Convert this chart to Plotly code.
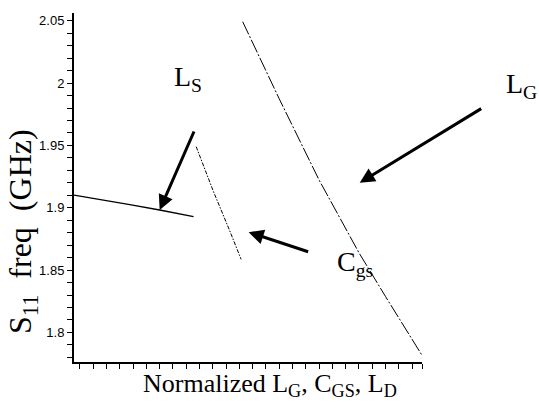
import plotly.graph_objects as go

# S11 resonance frequency versus normalized component value
ls_x = [0, 1.95, 4.2, 6.45, 9.0]
ls_y = [1.9101, 1.9067, 1.9026, 1.8982, 1.8929]

cgs_x = [9.2, 10.45, 11.7, 12.58]
cgs_y = [1.949, 1.9143, 1.8822, 1.8587]

lg_x = [12.7, 15.45, 18.45, 21.46, 23.46, 26.18]
lg_y = [2.0492, 1.9874, 1.9223, 1.8638, 1.8287, 1.782]

y_tick_vals = [1.8, 1.85, 1.9, 1.95, 2.0, 2.05]
y_tick_text = ["1.8", "1.85", "1.9", "1.95", "2", "2.05"]

X_RANGE = [0, 26.2]
Y_RANGE = [1.7763, 2.0562]
x_tick_vals = [0.45 + k for k in range(26)] + [X_RANGE[1]]

SERIF = "Liberation Serif, Times New Roman, serif"
SANS = "Liberation Sans, Arial, sans-serif"

fig = go.Figure()
fig.add_trace(go.Scatter(x=ls_x, y=ls_y, mode="lines",
                         line=dict(color="black", width=1.3)))
fig.add_trace(go.Scatter(x=cgs_x, y=cgs_y, mode="lines",
                         line=dict(color="black", width=1, dash="4px,1.5px,1.5px,1.5px")))
fig.add_trace(go.Scatter(x=lg_x, y=lg_y, mode="lines",
                         line=dict(color="black", width=1, dash="14px,2px,2px,2px")))

# pointer arrows
arrows = [
    # (head x, head y, tail offset px x, tail offset px y)
    (6.45, 1.8982, 35, -80),
    (13.15, 1.8804, 61, 20),
    (21.51, 1.9201, 123, -75),
]
for hx, hy, ax, ay in arrows:
    fig.add_annotation(x=hx, y=hy, xref="x", yref="y", ax=ax, ay=ay,
                       showarrow=True, arrowhead=2, arrowsize=1, arrowwidth=3,
                       arrowcolor="black", standoff=0, text="")

PL, PR, PT, PB = 74, 422, 13, 362
labels = [
    ("L<sub>S</sub>", 188, 79),
    ("L<sub>G</sub>", 521, 85),
    ("C<sub>gs</sub>", 355, 263),
]
for txt, px, py in labels:
    fig.add_annotation(x=(px - PL) / (PR - PL), y=(PB - py) / (PB - PT),
                       xref="paper", yref="paper", showarrow=False, text=txt,
                       font=dict(family=SERIF, size=28, color="black"),
                       xanchor="center", yanchor="middle")

# axis titles
fig.add_annotation(x=(22 - PL) / (PR - PL), y=(PB - 232) / (PB - PT),
                   xref="paper", yref="paper", showarrow=False,
                   text="S<sub>11</sub>&nbsp; freq&nbsp; (GHz)", textangle=-90,
                   font=dict(family=SERIF, size=32, color="black"),
                   xanchor="center", yanchor="middle")
fig.add_annotation(x=(270 - PL) / (PR - PL), y=(PB - 385) / (PB - PT),
                   xref="paper", yref="paper", showarrow=False,
                   text="Normalized L<sub>G</sub>, C<sub>GS</sub>, L<sub>D</sub>",
                   font=dict(family=SERIF, size=26, color="black"),
                   xanchor="center", yanchor="middle")

fig.update_xaxes(range=X_RANGE, showgrid=False, zeroline=False,
                 showline=True, linecolor="black", linewidth=2,
                 tickmode="array", tickvals=x_tick_vals, showticklabels=False,
                 ticks="outside", ticklen=5, tickwidth=1.2, tickcolor="black")
fig.update_yaxes(range=Y_RANGE, showgrid=False, zeroline=False,
                 showline=True, linecolor="black", linewidth=2,
                 tickmode="array", tickvals=y_tick_vals, ticktext=y_tick_text,
                 ticks="outside", ticklen=5, tickwidth=1.2, tickcolor="black",
                 tickfont=dict(family=SANS, size=13, color="black"),
                 minor=dict(tickmode="linear", tick0=1.78, dtick=0.01,
                            ticks="outside", ticklen=5, tickwidth=1.2,
                            tickcolor="black", showgrid=False))

fig.update_layout(width=539, height=411, showlegend=False,
                  margin=dict(l=PL, r=539 - PR, t=PT, b=411 - PB),
                  paper_bgcolor="white", plot_bgcolor="white")

fig.write_html("out.html")
